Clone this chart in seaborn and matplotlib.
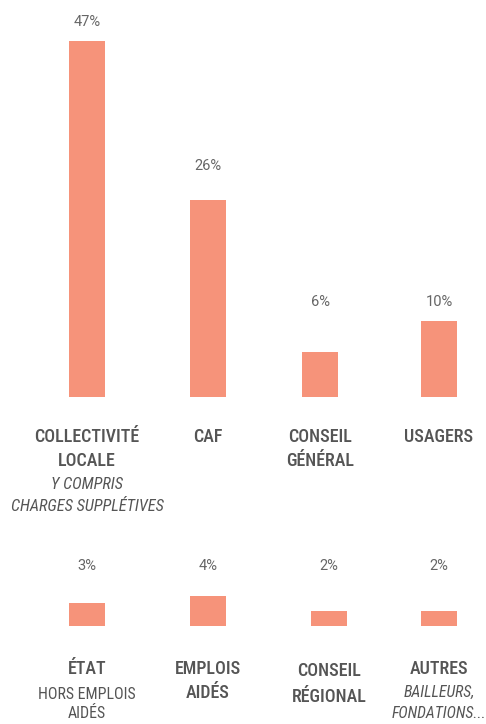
import matplotlib
matplotlib.use("Agg")
import matplotlib.pyplot as plt
from matplotlib import font_manager
import matplotlib.transforms as mtransforms
import seaborn as sns
import pandas as pd

# ---- data ----
top_categories = ["COLLECTIVITÉ\nLOCALE", "CAF", "CONSEIL\nGÉNÉRAL", "USAGERS"]
top_values = [47, 26, 6, 10]
top_notes = ["Y COMPRIS\nCHARGES SUPPLÉTIVES", "", "", ""]

bottom_categories = ["ÉTAT", "EMPLOIS\nAIDÉS", "CONSEIL\nRÉGIONAL", "AUTRES"]
bottom_values = [3, 4, 2, 2]
bottom_notes = ["HORS EMPLOIS\nAIDÉS", "", "", "BAILLEURS,\nFONDATIONS..."]
bottom_notes_italic = [False, False, False, True]

# ---- layout ----
W, H = 486, 724
BAR_COLOR = "#F6937A"
TEXT_COLOR = "#555555"
PCT_COLOR = "#666666"
top_pos = [87, 208, 320, 439]       # bar centres (px)
bottom_pos = [87, 208, 329, 439]
BAR_W = 36
top_label_y = [49.5, 30.5, 12.5, 12.5]     # data units for percent labels
bottom_label_y = 7.9

sns.set_theme(style="white")
avail = {f.name for f in font_manager.fontManager.ttflist}
fam = "DejaVu Sans"
for cand in ["Roboto Condensed", "Liberation Sans Narrow", "DejaVu Sans"]:
    if cand in avail:
        fam = cand
        break
plt.rcParams["font.family"] = [fam, "DejaVu Sans"]
pct_fam = ["Roboto", "DejaVu Sans"] if "Roboto" in avail else ["DejaVu Sans"]

fig = plt.figure(figsize=(W / 100, H / 100), dpi=100)

# top axis: baseline 397px, 7.58 px per unit
ax1 = fig.add_axes([0, (H - 397) / H, 1, 52 * 7.58 / H])
df1 = pd.DataFrame({"pos": top_pos, "val": top_values})
sns.barplot(data=df1, x="pos", y="val", color=BAR_COLOR, saturation=1,
            native_scale=True, width=BAR_W / 112, ax=ax1, edgecolor="none")
ax1.set_ylim(0, 52)
ax1.set_xlim(0, W)

# bottom axis: baseline 626px
ax2 = fig.add_axes([0, (H - 626) / H, 1, 9 * 7.6 / H])
df2 = pd.DataFrame({"pos": bottom_pos, "val": bottom_values})
sns.barplot(data=df2, x="pos", y="val", color=BAR_COLOR, saturation=1,
            native_scale=True, width=BAR_W / 110, ax=ax2, edgecolor="none")
ax2.set_ylim(0, 9)
ax2.set_xlim(0, W)

for ax in (ax1, ax2):
    ax.set_axis_off()

# percent labels
for i, v in enumerate(top_values):
    ax1.text(top_pos[i], top_label_y[i], f"{v}%", ha="center", va="center",
             fontsize=10.5, color=PCT_COLOR, family=pct_fam, fontweight="normal")
for i, v in enumerate(bottom_values):
    ax2.text(bottom_pos[i], bottom_label_y, f"{v}%", ha="center", va="center",
             fontsize=10.5, color=PCT_COLOR, family=pct_fam, fontweight="normal")

def fy(px):
    return 1 - px / H

tr1 = mtransforms.blended_transform_factory(ax1.transData, fig.transFigure)
tr2 = mtransforms.blended_transform_factory(ax2.transData, fig.transFigure)

for i, c in enumerate(top_categories):
    ax1.text(top_pos[i], fy(427.5), c, transform=tr1, ha="center", va="top",
             fontsize=13, fontweight=500, color=TEXT_COLOR,
             linespacing=1.5, clip_on=False)
    if top_notes[i]:
        ax1.text(top_pos[i], fy(477), top_notes[i], transform=tr1, ha="center",
                 va="top", fontsize=11.8, fontstyle="italic", color=TEXT_COLOR,
                 linespacing=1.6, clip_on=False)

bottom_label_top = [659.5, 659.5, 662.5, 659.5]
bottom_note_top = [687, 0, 0, 685]
bottom_note_ls = [1.32, 1.5, 1.5, 1.5]
for i, c in enumerate(bottom_categories):
    ax2.text(bottom_pos[i], fy(bottom_label_top[i]), c, transform=tr2,
             ha="center", va="top", fontsize=13, fontweight=500,
             color=TEXT_COLOR, linespacing=1.5, clip_on=False)
    if bottom_notes[i]:
        ax2.text(bottom_pos[i], fy(bottom_note_top[i]), bottom_notes[i],
                 transform=tr2, ha="center", va="top", fontsize=11.4,
                 fontstyle="italic" if bottom_notes_italic[i] else "normal",
                 color=TEXT_COLOR, linespacing=bottom_note_ls[i], clip_on=False)

fig.savefig("out.png", dpi=100, facecolor="white")
